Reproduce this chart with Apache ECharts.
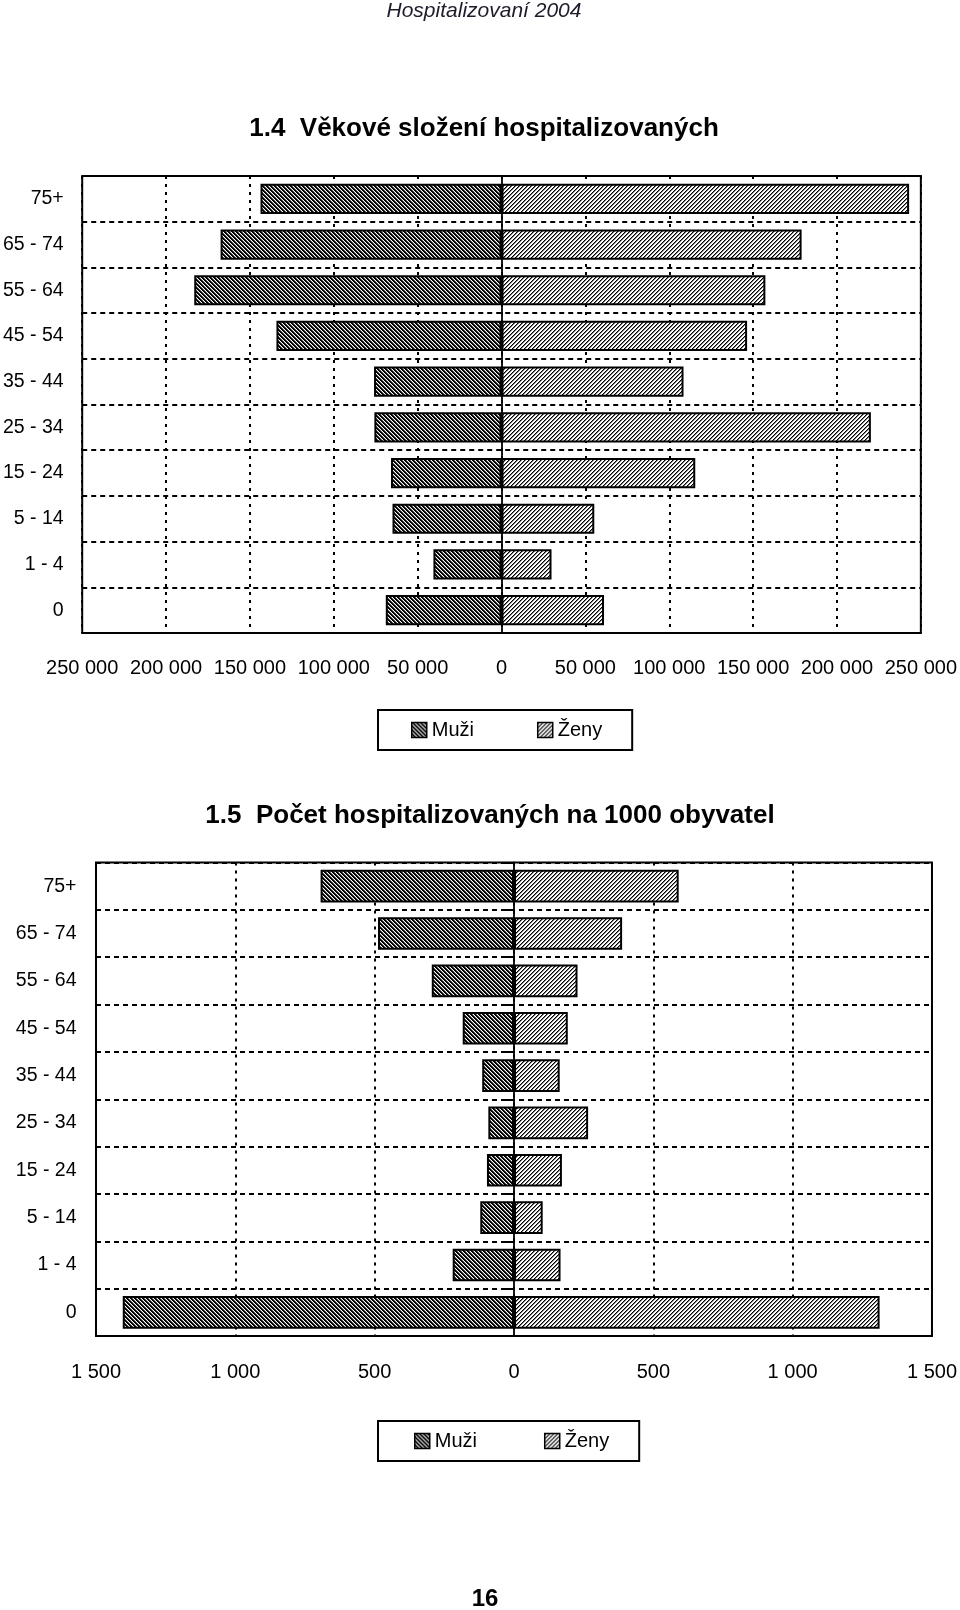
<!DOCTYPE html>
<html><head><meta charset="utf-8">
<script src="https://cdn.jsdelivr.net/npm/echarts@6/dist/echarts.min.js"></script>
<style>html,body{margin:0;padding:0;background:#fff}#c{width:960px;height:1610px}</style>
</head><body><div id="c"></div>
<script>
// ---- data ----
const categories = ['75+','65 - 74','55 - 64','45 - 54','35 - 44','25 - 34','15 - 24','5 - 14','1 - 4','0'];
const seriesNames = ['Muži','Ženy'];
// 1.4 absolute counts
const men1   = [143700, 167500, 183200, 134200, 76000, 75800, 65900, 65000, 40600, 69000];
const women1 = [243000, 178900, 157300, 146400, 108500, 220200, 115500, 55300, 29800, 61100];
// 1.5 per 1000 inhabitants
const men2   = [694, 488, 295, 184, 114, 92, 97, 121, 220, 1404];
const women2 = [591, 388, 228, 193, 164, 266, 172, 103, 167, 1312];
// axis ticks
const axis1 = {min:-250000, max:250000, interval:50000};
const axis2 = {min:-1500, max:1500, interval:500};
// texts
const pageHeader = 'Hospitalizovaní 2004';
const title1 = '1.4  Věkové složení hospitalizovaných';
const title2 = '1.5  Počet hospitalizovaných na 1000 obyvatel';
const pageNumber = '16';

const FF = '"Liberation Sans", Arial, Helvetica, sans-serif';

function makePattern(kind){
  const c = document.createElement('canvas'); c.width = 4; c.height = 4;
  const g = c.getContext('2d');
  g.fillStyle = '#fff'; g.fillRect(0,0,4,4);
  for (let y=0;y<4;y++) for (let x=0;x<4;x++){
    if (kind === 'm') {
      const d = ((x - y) % 4 + 4) % 4;
      if (d === 0 || d === 1) { g.fillStyle = '#000'; g.fillRect(x,y,1,1); }
      else if (d === 2) { g.fillStyle = '#6a6a6a'; g.fillRect(x,y,1,1); }
    } else {
      const d = (x + y) % 4;
      if (d === 0) { g.fillStyle = '#000'; g.fillRect(x,y,1,1); }
      else if (d === 1) { g.fillStyle = '#7a7a7a'; g.fillRect(x,y,1,1); }
    }
  }
  return c;
}
const patM = {image: makePattern('m'), repeat: 'repeat'};
const patW = {image: makePattern('w'), repeat: 'repeat'};

function fmt(v){ return String(Math.abs(v)).replace(/\B(?=(\d{3})+(?!\d))/g, ' '); }

function xAxisCfg(gridIndex, ax, margin){
  return {
    type:'value', gridIndex, min:ax.min, max:ax.max, interval:ax.interval,
    axisLine:{show:false}, axisTick:{show:false},
    axisLabel:{formatter:fmt, margin, color:'#000', fontFamily:FF, fontSize:20, showMinLabel:true, showMaxLabel:true},
    splitLine:{show:true, lineStyle:{color:'#000', width:2, type:[3,5]}}
  };
}
function yLabelAxis(gridIndex, margin){
  return {
    type:'category', gridIndex, data:categories, inverse:true,
    axisLine:{show:false, onZero:false}, axisTick:{show:false},
    axisLabel:{interval:0, margin, color:'#000', fontFamily:FF, fontSize:19.5},
    splitLine:{show:true, interval:0, lineStyle:{color:'#000', width:2, type:[5,4]}}
  };
}
function yZeroAxis(gridIndex, xIdx, ticks){
  return {
    type:'category', gridIndex, data:categories, inverse:true,
    axisLine:{show:true, onZero:true, onZeroAxisIndex:xIdx, lineStyle:{color:'#000', width:1.8}},
    axisTick:{show:ticks, inside:true, length:10, interval:0, lineStyle:{color:'#000', width:2}},
    axisLabel:{show:false}, splitLine:{show:false}
  };
}
function barSeries(name, data, xIdx, yIdx, pat, gap){
  return {
    type:'bar', name, data, xAxisIndex:xIdx, yAxisIndex:yIdx,
    barGap:'-100%', barCategoryGap:gap, animation:false,
    itemStyle:{color:pat, borderColor:'#000', borderWidth:2}
  };
}
function legendCfg(top, gap, pad){
  return {
    left:378, top, orient:'horizontal', icon:'rect', itemWidth:15, itemHeight:15,
    itemGap:gap, padding:pad, borderColor:'#000', borderWidth:2, selectedMode:false,
    textStyle:{fontFamily:FF, fontSize:20, color:'#000'},
    itemStyle:{borderColor:'#000', borderWidth:1.5},
    data:seriesNames
  };
}

const chart = echarts.init(document.getElementById('c'), null, {renderer:'canvas'});
chart.setOption({
  animation:false,
  backgroundColor:'#fff',
  grid:[
    {left:82, top:176, width:840, height:457, show:true, borderColor:'#000', borderWidth:2, backgroundColor:'transparent'},
    {left:96, top:862.5, width:836, height:473.5, show:true, borderColor:'#000', borderWidth:2, backgroundColor:'transparent'}
  ],
  xAxis:[ xAxisCfg(0, axis1, 25), xAxisCfg(1, axis2, 26) ],
  yAxis:[ yLabelAxis(0, 18.5), yZeroAxis(0, 0, false), yLabelAxis(1, 19.5), yZeroAxis(1, 1, true) ],
  legend:[ legendCfg(710, 63, [10,30,10,33]), legendCfg(1421, 67, [10,30,10,36]) ],
  series:[
    barSeries(seriesNames[0], men1.map(v=>-v), 0, 0, patM, '34%'),
    barSeries(seriesNames[1], women1, 0, 0, patW, '34%'),
    barSeries(seriesNames[0], men2.map(v=>-v), 1, 2, patM, '31%'),
    barSeries(seriesNames[1], women2, 1, 2, patW, '31%')
  ],
  graphic:[
    {type:'text', x:484, y:11, style:{text:pageHeader, font:'italic 21px '+FF, fill:'#1c1c2a', align:'center', verticalAlign:'middle'}},
    {type:'text', x:484, y:129, style:{text:title1, font:'bold 26px '+FF, fill:'#000', align:'center', verticalAlign:'middle'}},
    {type:'text', x:490, y:816, style:{text:title2, font:'bold 26px '+FF, fill:'#000', align:'center', verticalAlign:'middle'}},
    {type:'text', x:485, y:1599, style:{text:pageNumber, font:'bold 24px '+FF, fill:'#000', align:'center', verticalAlign:'middle'}}
  ]
});
</script>
</body></html>
